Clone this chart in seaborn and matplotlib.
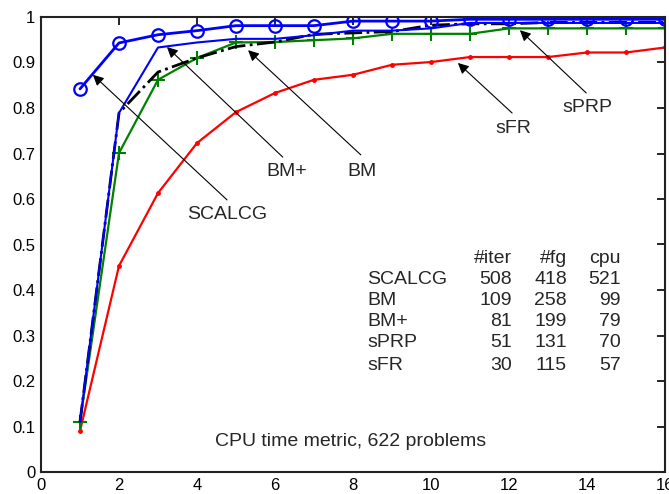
import numpy as np
import pandas as pd
import matplotlib
matplotlib.use("Agg")
import matplotlib.pyplot as plt
import seaborn as sns

# ---- data ----
x_vals = list(range(1, 17))
scalcg = [0.842, 0.943, 0.961, 0.970, 0.981, 0.981, 0.981, 0.991, 0.991, 0.991,
          0.995, 0.995, 0.995, 0.995, 0.995, 0.995]
bm = [0.11, 0.789, 0.879, 0.910, 0.935, 0.945, 0.962, 0.965, 0.968, 0.982,
      0.985, 0.985, 0.988, 0.988, 0.988, 0.988]
bm_plus = [0.11, 0.789, 0.933, 0.944, 0.952, 0.952, 0.960, 0.970, 0.970, 0.975,
           0.987, 0.987, 0.987, 0.987, 0.987, 0.987]
sprp = [0.11, 0.701, 0.862, 0.910, 0.944, 0.945, 0.949, 0.953, 0.963, 0.963,
        0.963, 0.975, 0.975, 0.975, 0.975, 0.975]
sfr = [0.09, 0.453, 0.613, 0.723, 0.791, 0.833, 0.862, 0.873, 0.895, 0.901,
       0.912, 0.912, 0.912, 0.922, 0.922, 0.933]

x_ticks = [0, 2, 4, 6, 8, 10, 12, 14, 16]
y_ticks = [0, 0.1, 0.2, 0.3, 0.4, 0.5, 0.6, 0.7, 0.8, 0.9, 1]
y_tick_labels = ["0", "0.1", "0.2", "0.3", "0.4", "0.5", "0.6", "0.7", "0.8", "0.9", "1"]

table_header = ["#iter", "#fg", "cpu"]
table_names = ["SCALCG", "BM", "BM+", "sPRP", "sFR"]
table_iter = ["508", "109", "81", "51", "30"]
table_fg = ["418", "258", "199", "131", "115"]
table_cpu = ["521", "99", "79", "70", "57"]

caption = "CPU time metric, 622 problems"

# annotation labels: (label, arrow tip, arrow tail, text pos)
annotations = [
    ("SCALCG", (1.33, 0.873), (4.77, 0.598), (4.77, 0.566)),
    ("BM+", (3.23, 0.934), (6.20, 0.692), (6.31, 0.660)),
    ("BM", (5.31, 0.927), (8.20, 0.697), (8.23, 0.660)),
    ("sFR", (10.69, 0.899), (12.08, 0.789), (12.10, 0.756)),
    ("sPRP", (12.28, 0.971), (13.98, 0.833), (14.00, 0.801)),
]

FS = 14

# ---- figure ----
sns.set_style("white")
plt.rcParams["font.family"] = ["Liberation Sans", "DejaVu Sans"]

fig = plt.figure(figsize=(6.69, 4.94), dpi=100)
ax = fig.add_axes([41 / 669, 22 / 494, 624 / 669, 455 / 494])

df = pd.DataFrame({"x": x_vals, "SCALCG": scalcg, "BM": bm, "BM+": bm_plus,
                   "sPRP": sprp, "sFR": sfr})

sns.lineplot(data=df, x="x", y="sFR", ax=ax, color="#ff0000", lw=1.6,
             marker="o", markersize=3.5, markeredgewidth=0,
             markerfacecolor="#ff0000", linestyle="-")
sns.lineplot(data=df, x="x", y="sPRP", ax=ax, color="#008000", lw=1.6,
             marker="+", markersize=10, markeredgewidth=1.5,
             markeredgecolor="#008000", linestyle="-")
sns.lineplot(data=df, x="x", y="BM", ax=ax, color="black", lw=2.0,
             linestyle="-.")
sns.lineplot(data=df, x="x", y="BM+", ax=ax, color="#0000ff", lw=1.5,
             linestyle="-")
sns.lineplot(data=df, x="x", y="SCALCG", ax=ax, color="#0000ff", lw=2.0,
             marker="o", markersize=9, markerfacecolor="none",
             markeredgecolor="#0000ff", markeredgewidth=1.6, linestyle="-")

ax.set_xlim(0, 16)
ax.set_ylim(0, 1)
ax.set_xticks(x_ticks)
ax.set_xticklabels([str(t) for t in x_ticks])
ax.set_yticks(y_ticks)
ax.set_yticklabels(y_tick_labels)
ax.set_xlabel("")
ax.set_ylabel("")
ax.tick_params(direction="in", length=6, width=1.2, top=True, right=True,
               labelsize=12, pad=4, colors="black")
for s in ax.spines.values():
    s.set_visible(True)
    s.set_color("#222222")
    s.set_linewidth(1.5)

# annotations with arrows
for label, tip, tail, tpos in annotations:
    ax.annotate("", xy=tip, xytext=tail,
                arrowprops=dict(arrowstyle="-|>", color="black", lw=0.8,
                                mutation_scale=16, shrinkA=0, shrinkB=0))
    ax.text(tpos[0], tpos[1], label, ha="center", va="center", fontsize=FS)

# table
header_y = 0.470
row_ys = [0.424, 0.378, 0.330, 0.284, 0.235]
col_iter_x, col_fg_x, col_cpu_x = 12.08, 13.49, 14.87
ax.text(col_iter_x, header_y, table_header[0], ha="right", va="center", fontsize=FS)
ax.text(col_fg_x, header_y, table_header[1], ha="right", va="center", fontsize=FS)
ax.text(col_cpu_x, header_y, table_header[2], ha="right", va="center", fontsize=FS)
for i, y in enumerate(row_ys):
    ax.text(8.36, y, table_names[i], ha="left", va="center", fontsize=FS)
    ax.text(col_iter_x, y, table_iter[i], ha="right", va="center", fontsize=FS)
    ax.text(col_fg_x, y, table_fg[i], ha="right", va="center", fontsize=FS)
    ax.text(col_cpu_x, y, table_cpu[i], ha="right", va="center", fontsize=FS)

ax.text(7.95, 0.066, caption, ha="center", va="center", fontsize=FS)

fig.savefig("out.png", dpi=100)
